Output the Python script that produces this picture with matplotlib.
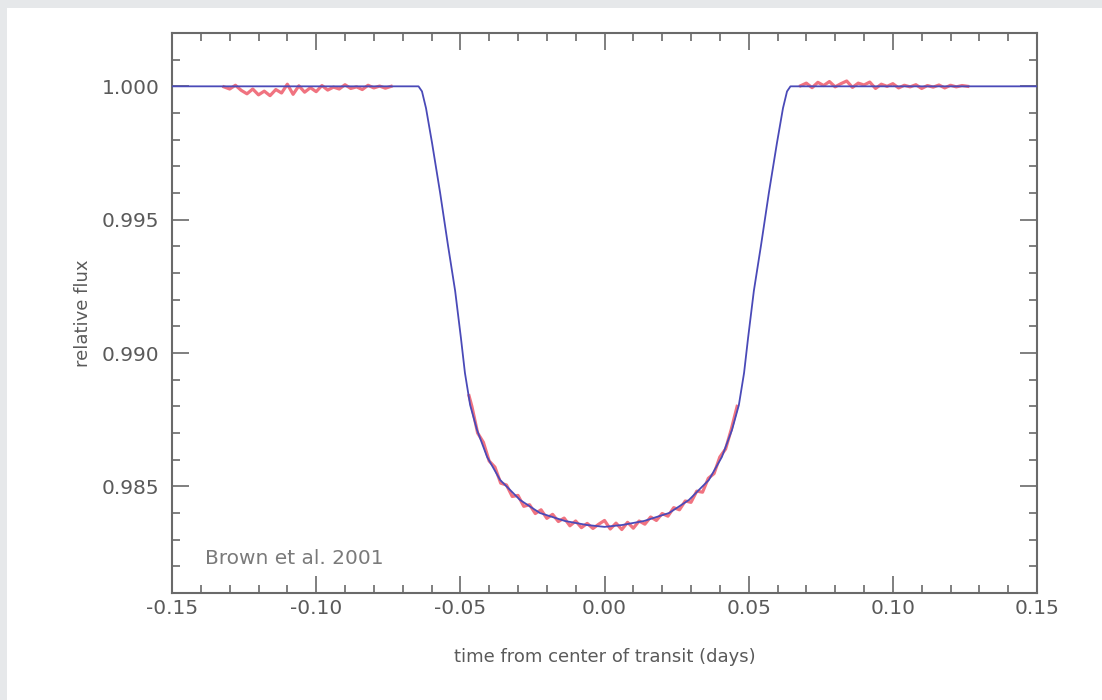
import matplotlib
matplotlib.use("Agg")
import matplotlib.pyplot as plt
from matplotlib.ticker import MultipleLocator, FormatStrFormatter
from matplotlib.patches import Rectangle

# ---- model light curve ----
model_t = [-0.150, -0.0645, -0.0633, -0.0619, -0.0598, -0.0570, -0.0543, -0.0518,
           -0.0498, -0.0484, -0.0466, -0.0442, -0.0407, -0.0362, -0.0293, -0.0224,
           -0.0137, -0.0061, 0.0000,
           0.0061, 0.0137, 0.0224, 0.0293, 0.0362, 0.0407, 0.0442, 0.0466,
           0.0484, 0.0498, 0.0518, 0.0543, 0.0570, 0.0598, 0.0619, 0.0633,
           0.0645, 0.150]
model_f = [1.00000, 1.00000, 0.99981, 0.99918, 0.99787, 0.99600, 0.99405, 0.99233,
           0.99057, 0.98925, 0.98805, 0.98711, 0.98610, 0.98524, 0.98449, 0.98400,
           0.98370, 0.98355, 0.98348,
           0.98355, 0.98370, 0.98400, 0.98449, 0.98524, 0.98610, 0.98711, 0.98805,
           0.98925, 0.99057, 0.99233, 0.99405, 0.99600, 0.99787, 0.99918, 0.99981,
           1.00000, 1.00000]

pre_t = [-0.132, -0.130, -0.128, -0.126, -0.124, -0.122, -0.120, -0.118, -0.116, -0.114,
         -0.112, -0.110, -0.108, -0.106, -0.104, -0.102, -0.100, -0.098, -0.096, -0.094,
         -0.092, -0.090, -0.088, -0.086, -0.084, -0.082, -0.080, -0.078, -0.076, -0.074]
pre_f = [0.99998, 0.99990, 1.00004, 0.99985, 0.99972, 0.99990, 0.99968, 0.99982, 0.99965, 0.99988,
         0.99975, 1.00008, 0.99970, 1.00002, 0.99978, 0.99995, 0.99980, 1.00003, 0.99986, 0.99997,
         0.99990, 1.00006, 0.99992, 0.99998, 0.99988, 1.00004, 0.99994, 1.00001, 0.99993, 1.00000]

in_t = [-0.047, -0.046, -0.044, -0.042, -0.040, -0.038, -0.036, -0.034, -0.032, -0.030, -0.028,
        -0.026, -0.024, -0.022, -0.020, -0.018, -0.016, -0.014, -0.012, -0.010, -0.008,
        -0.006, -0.004, -0.002, 0.000, 0.002, 0.004, 0.006, 0.008, 0.010, 0.012,
        0.014, 0.016, 0.018, 0.020, 0.022, 0.024, 0.026, 0.028, 0.030, 0.032,
        0.034, 0.036, 0.038, 0.040, 0.042, 0.044, 0.046]
in_f = [0.98840, 0.98800, 0.98700, 0.98665, 0.98595, 0.98572, 0.98512, 0.98505, 0.98462, 0.98466, 0.98425,
        0.98431, 0.98398, 0.98412, 0.98380, 0.98395, 0.98368, 0.98381, 0.98352, 0.98370, 0.98345,
        0.98361, 0.98342, 0.98358, 0.98372, 0.98340, 0.98362, 0.98338, 0.98365, 0.98343, 0.98370,
        0.98358, 0.98385, 0.98372, 0.98398, 0.98388, 0.98420, 0.98412, 0.98445, 0.98440, 0.98482,
        0.98478, 0.98530, 0.98548, 0.98610, 0.98640, 0.98715, 0.98800]

post_t = [0.068, 0.070, 0.072, 0.074, 0.076, 0.078, 0.080, 0.082, 0.084, 0.086,
          0.088, 0.090, 0.092, 0.094, 0.096, 0.098, 0.100, 0.102, 0.104, 0.106,
          0.108, 0.110, 0.112, 0.114, 0.116, 0.118, 0.120, 0.122, 0.124, 0.126]
post_f = [1.00002, 1.00012, 0.99995, 1.00015, 1.00003, 1.00018, 0.99998, 1.00010, 1.00020, 0.99996,
          1.00012, 1.00005, 1.00016, 0.99992, 1.00008, 1.00000, 1.00010, 0.99994, 1.00004, 0.99998,
          1.00006, 0.99992, 1.00003, 0.99997, 1.00005, 0.99994, 1.00004, 0.99998, 1.00003, 1.00000]

xlabel = "time from center of transit (days)"
ylabel = "relative flux"
credit = "Brown et al. 2001"

TXT = "#5a5a5a"
AX = "#6a6a6a"

fig = plt.figure(figsize=(11.02, 7.0), dpi=100)
fig.patch.set_facecolor("#e6e8ea")
bg = Rectangle((7 / 1102, 0), 1 - 7 / 1102, 1 - 8 / 700,
               transform=fig.transFigure, facecolor="white",
               edgecolor="none", zorder=-5)
fig.patches.append(bg)

ax = fig.add_axes([172 / 1102, 107 / 700, 865 / 1102, 560 / 700])
ax.set_zorder(2)
ax.set_facecolor("white")

for seg_t, seg_f in ((pre_t, pre_f), (in_t, in_f), (post_t, post_f)):
    ax.plot(seg_t, seg_f, color="#e8283c", lw=2.3, alpha=0.65, zorder=2)
ax.plot(model_t, model_f, color="#4a4ab8", lw=1.3, zorder=3)

ax.set_xlim(-0.15, 0.15)
ax.set_ylim(0.981, 1.002)
ax.xaxis.set_major_locator(MultipleLocator(0.05))
ax.xaxis.set_minor_locator(MultipleLocator(0.01))
ax.yaxis.set_major_locator(MultipleLocator(0.005))
ax.yaxis.set_minor_locator(MultipleLocator(0.001))
ax.xaxis.set_major_formatter(FormatStrFormatter("%.2f"))
ax.yaxis.set_major_formatter(FormatStrFormatter("%.3f"))

ax.tick_params(which="both", direction="in", top=True, right=True,
               color=AX, labelcolor=TXT, labelsize=14.5, width=1.2)
ax.tick_params(axis="x", which="major", length=12, pad=4)
ax.tick_params(axis="y", which="major", length=12, pad=9)
ax.tick_params(which="minor", length=6)
for s in ax.spines.values():
    s.set_color(AX)
    s.set_linewidth(1.5)

ax.set_xlabel(xlabel, fontsize=13, color=TXT, labelpad=22)
ax.set_ylabel(ylabel, fontsize=13, color=TXT, labelpad=7)
ax.text(0.038, 0.045, credit, transform=ax.transAxes, fontsize=14.5,
        color="#7a7a7a", ha="left", va="bottom")

fig.savefig("out.png", dpi=100, facecolor=fig.get_facecolor())
